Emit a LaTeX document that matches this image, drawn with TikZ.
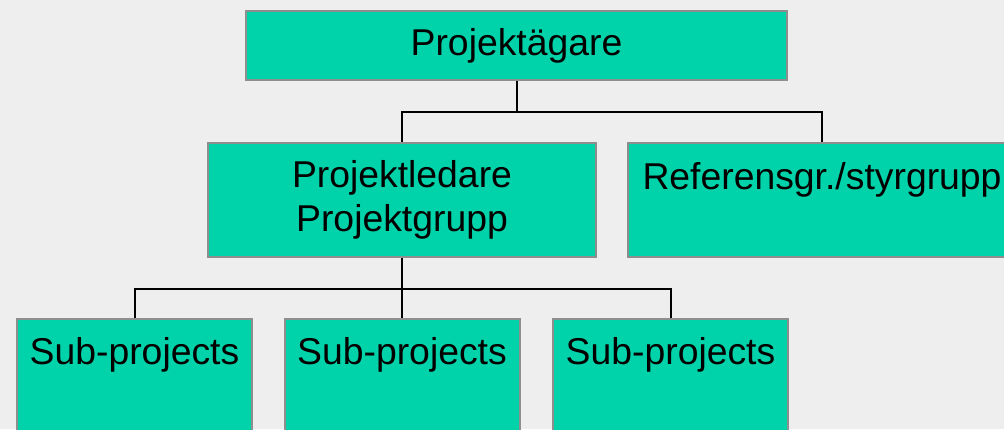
\documentclass[tikz,border=0pt]{standalone}
\usepackage{fontspec}
\setmainfont{Liberation Sans}
\usetikzlibrary{positioning}

\definecolor{boxfill}{HTML}{00D2AA}
\definecolor{boxline}{HTML}{8E8E8E}
\definecolor{paper}{HTML}{EEEEEE}

\tikzset{
	orgbox/.style={draw=boxline, line width=1.5pt, fill=boxfill, inner sep=0pt,
		anchor=north, align=center, font=\fontsize{28}{33}\selectfont},
	link/.style={line width=1.5pt},
}

\begin{document}
\begin{tikzpicture}[x=.75pt,y=-.75pt]
				\def\px{0.75pt}
				
				\fill[paper] (0,0) rectangle (1004,429);
				\useasboundingbox (0,0) rectangle (1004,429);
				\clip (0,0) rectangle (1004,429);
				
				% top level
				\node[orgbox, minimum width=541*\px, minimum height=69*\px] (owner) at (516.5,10) {Projektägare};
				
				% second level
				\node[orgbox, minimum width=388*\px, minimum height=114*\px] (leader) at (402,142) {Projektledare\\Projektgrupp};
				\node[orgbox, minimum width=388*\px, text height=46*\px, text depth=68*\px] (ref) at (822,142) {Referensgr./styrgrupp};
				
				\draw[link] (owner.south) -- ++(0,31) -| (leader.north);
				\draw[link] (owner.south) -- ++(0,31) -| (ref.north);
				
				% sub-projects under the leader
				\foreach \cx [count=\i] in {134.5,402,670.5}{
					\node[orgbox, minimum width=235*\px, text height=45*\px, text depth=69*\px] (sub\i) at (\cx,318) {Sub-projects};
					\draw[link] (leader.south) -- ++(0,31) -| (sub\i.north);
				}
\end{tikzpicture}
\end{document}
